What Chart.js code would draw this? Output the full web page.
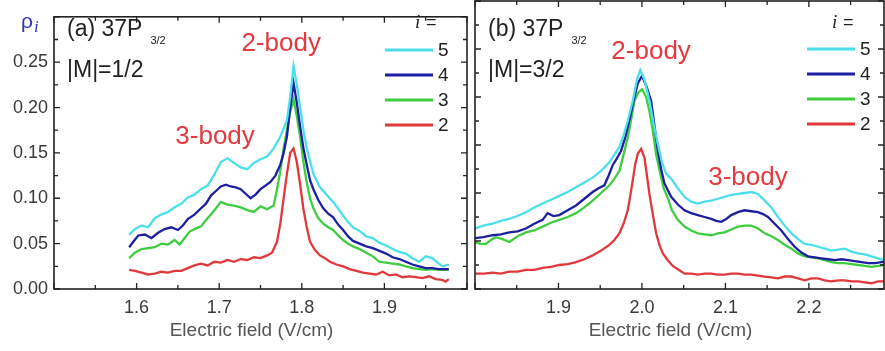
<!DOCTYPE html>
<html>
<head>
<meta charset="utf-8">
<title>rho_i vs electric field, 37P3/2</title>
<script src="https://cdn.jsdelivr.net/npm/chart.js@4.4.1/dist/chart.umd.min.js"></script>
<style>
  html, body { margin: 0; padding: 0; background: #fff; overflow: hidden; }
  #wrap { position: relative; width: 885px; height: 351px; overflow: hidden; }
  #panelA { position: absolute; left: 0; top: 0; }
  #panelB { position: absolute; left: 470px; top: 0; }
</style>
</head>
<body>
<div id="wrap">
  <canvas id="panelA" width="470" height="351"></canvas>
  <canvas id="panelB" width="417" height="351"></canvas>
</div>
<script>
// ---- data: panel (a) |M|=1/2 ----
var fieldA5 = [1.591,1.598,1.606,1.614,1.622,1.630,1.638,1.646,1.654,1.662,1.670,1.678,1.686,1.694,1.702,1.710,1.718,1.726,1.734,1.742,1.750,1.758,1.766,1.774,1.782,1.786,1.790,1.794,1.798,1.802,1.806,1.814,1.822,1.830,1.838,1.846,1.854,1.862,1.870,1.878,1.886,1.894,1.902,1.910,1.918,1.926,1.934,1.942,1.950,1.958,1.966,1.970,1.978];
var rhoA5   = [0.060,0.066,0.070,0.068,0.078,0.082,0.085,0.090,0.094,0.101,0.104,0.110,0.114,0.126,0.140,0.144,0.139,0.134,0.132,0.139,0.143,0.146,0.155,0.168,0.186,0.212,0.246,0.225,0.200,0.175,0.155,0.127,0.112,0.104,0.096,0.086,0.076,0.068,0.064,0.058,0.056,0.051,0.048,0.044,0.041,0.039,0.034,0.030,0.036,0.034,0.028,0.025,0.027];

var fieldA4 = [1.591,1.596,1.602,1.610,1.618,1.626,1.634,1.642,1.650,1.656,1.662,1.670,1.678,1.684,1.690,1.696,1.702,1.708,1.714,1.720,1.726,1.732,1.738,1.744,1.750,1.756,1.762,1.768,1.774,1.778,1.782,1.786,1.790,1.794,1.798,1.802,1.806,1.810,1.814,1.820,1.826,1.832,1.838,1.844,1.850,1.856,1.862,1.870,1.878,1.886,1.894,1.902,1.910,1.918,1.926,1.934,1.942,1.950,1.958,1.966,1.978];
var rhoA4   = [0.046,0.052,0.059,0.060,0.056,0.062,0.066,0.068,0.065,0.070,0.077,0.082,0.089,0.094,0.103,0.108,0.113,0.115,0.113,0.112,0.110,0.105,0.100,0.104,0.110,0.114,0.118,0.125,0.137,0.150,0.168,0.200,0.227,0.205,0.179,0.155,0.137,0.120,0.110,0.098,0.089,0.083,0.079,0.071,0.065,0.058,0.053,0.050,0.047,0.045,0.042,0.039,0.035,0.033,0.030,0.027,0.025,0.023,0.023,0.022,0.022];

var fieldA3 = [1.591,1.598,1.606,1.614,1.622,1.630,1.638,1.646,1.652,1.658,1.664,1.670,1.678,1.684,1.690,1.696,1.702,1.710,1.718,1.726,1.734,1.742,1.750,1.758,1.766,1.770,1.774,1.778,1.782,1.786,1.790,1.794,1.798,1.802,1.806,1.810,1.814,1.820,1.826,1.832,1.838,1.844,1.850,1.856,1.862,1.870,1.878,1.886,1.894,1.902,1.910,1.918,1.926,1.934,1.942,1.950,1.958,1.966,1.978];
var rhoA3   = [0.034,0.040,0.044,0.045,0.046,0.050,0.049,0.054,0.049,0.056,0.063,0.066,0.069,0.076,0.082,0.089,0.096,0.093,0.092,0.090,0.087,0.085,0.091,0.088,0.092,0.110,0.130,0.155,0.175,0.195,0.209,0.190,0.168,0.140,0.117,0.100,0.089,0.078,0.072,0.068,0.065,0.059,0.054,0.050,0.047,0.044,0.040,0.036,0.030,0.029,0.028,0.027,0.025,0.023,0.022,0.021,0.022,0.021,0.021];

var fieldA2 = [1.591,1.598,1.606,1.614,1.622,1.630,1.638,1.646,1.654,1.662,1.670,1.678,1.686,1.694,1.702,1.710,1.718,1.726,1.734,1.742,1.750,1.758,1.764,1.770,1.774,1.778,1.782,1.786,1.790,1.794,1.798,1.802,1.806,1.810,1.816,1.822,1.828,1.834,1.842,1.850,1.858,1.866,1.874,1.882,1.890,1.898,1.906,1.914,1.922,1.930,1.938,1.946,1.954,1.962,1.970,1.974,1.978];
var rhoA2   = [0.021,0.020,0.018,0.016,0.017,0.019,0.018,0.020,0.020,0.023,0.026,0.028,0.026,0.030,0.029,0.032,0.030,0.033,0.032,0.035,0.034,0.037,0.040,0.052,0.072,0.100,0.127,0.150,0.155,0.140,0.115,0.088,0.068,0.052,0.043,0.037,0.034,0.030,0.027,0.025,0.022,0.020,0.018,0.017,0.016,0.019,0.015,0.016,0.013,0.014,0.013,0.012,0.014,0.011,0.010,0.008,0.011];

// ---- data: panel (b) |M|=3/2 ----
var fieldB5 = [1.800,1.810,1.821,1.831,1.841,1.851,1.861,1.871,1.881,1.891,1.901,1.911,1.921,1.931,1.941,1.951,1.961,1.967,1.973,1.978,1.983,1.989,1.994,1.998,2.003,2.009,2.014,2.019,2.024,2.029,2.035,2.043,2.051,2.059,2.067,2.075,2.083,2.091,2.099,2.107,2.115,2.123,2.131,2.139,2.147,2.155,2.163,2.171,2.179,2.187,2.195,2.203,2.211,2.219,2.227,2.235,2.243,2.251,2.259,2.267,2.275,2.283,2.291,2.300];
var rhoB5   = [0.063,0.066,0.068,0.071,0.073,0.076,0.080,0.085,0.089,0.093,0.097,0.101,0.106,0.111,0.116,0.123,0.132,0.140,0.148,0.160,0.175,0.196,0.218,0.228,0.218,0.196,0.172,0.151,0.132,0.120,0.115,0.105,0.096,0.091,0.089,0.091,0.092,0.094,0.096,0.098,0.099,0.100,0.101,0.099,0.092,0.085,0.075,0.066,0.058,0.052,0.047,0.046,0.044,0.042,0.040,0.041,0.042,0.039,0.037,0.036,0.034,0.032,0.030,0.030];

var fieldB4 = [1.800,1.810,1.821,1.831,1.841,1.851,1.861,1.871,1.881,1.887,1.894,1.901,1.911,1.921,1.931,1.941,1.948,1.955,1.960,1.965,1.970,1.975,1.980,1.985,1.990,1.995,2.000,2.005,2.011,2.015,2.019,2.023,2.027,2.035,2.043,2.051,2.059,2.067,2.075,2.083,2.089,2.095,2.101,2.107,2.115,2.123,2.131,2.139,2.145,2.151,2.159,2.167,2.175,2.183,2.191,2.199,2.207,2.215,2.223,2.231,2.239,2.247,2.255,2.263,2.271,2.279,2.287,2.295,2.300];
var rhoB4   = [0.053,0.054,0.056,0.057,0.059,0.060,0.063,0.068,0.072,0.079,0.076,0.077,0.082,0.087,0.094,0.101,0.105,0.108,0.118,0.129,0.136,0.144,0.158,0.176,0.196,0.214,0.222,0.212,0.196,0.170,0.144,0.125,0.110,0.096,0.088,0.082,0.079,0.077,0.075,0.073,0.071,0.070,0.073,0.077,0.080,0.082,0.081,0.080,0.078,0.075,0.068,0.061,0.052,0.044,0.038,0.034,0.033,0.032,0.031,0.030,0.031,0.030,0.029,0.028,0.027,0.027,0.028,0.028,0.028];

var fieldB3 = [1.800,1.806,1.813,1.819,1.825,1.833,1.841,1.851,1.861,1.871,1.881,1.891,1.901,1.911,1.921,1.931,1.941,1.951,1.961,1.967,1.973,1.978,1.983,1.987,1.991,1.996,2.000,2.005,2.009,2.013,2.017,2.021,2.026,2.031,2.036,2.043,2.051,2.059,2.067,2.075,2.083,2.091,2.099,2.107,2.115,2.123,2.131,2.139,2.147,2.155,2.163,2.171,2.179,2.187,2.195,2.203,2.211,2.219,2.227,2.235,2.243,2.251,2.259,2.267,2.275,2.283,2.291,2.300];
var rhoB3   = [0.049,0.047,0.047,0.051,0.054,0.052,0.049,0.055,0.059,0.061,0.065,0.069,0.072,0.075,0.079,0.085,0.092,0.100,0.108,0.115,0.123,0.140,0.158,0.176,0.196,0.205,0.208,0.200,0.185,0.165,0.140,0.124,0.105,0.095,0.082,0.072,0.065,0.061,0.058,0.057,0.056,0.058,0.059,0.062,0.065,0.066,0.066,0.063,0.058,0.055,0.051,0.046,0.042,0.037,0.034,0.033,0.032,0.030,0.028,0.027,0.027,0.026,0.025,0.024,0.023,0.024,0.025,0.025];

var fieldB2 = [1.800,1.811,1.821,1.831,1.841,1.851,1.861,1.871,1.881,1.891,1.901,1.911,1.921,1.931,1.941,1.951,1.961,1.967,1.973,1.978,1.983,1.986,1.989,1.992,1.995,1.999,2.003,2.006,2.009,2.013,2.017,2.021,2.025,2.031,2.037,2.044,2.051,2.059,2.067,2.075,2.083,2.091,2.099,2.107,2.115,2.123,2.131,2.139,2.147,2.155,2.163,2.171,2.179,2.187,2.195,2.203,2.211,2.219,2.227,2.235,2.243,2.251,2.259,2.267,2.275,2.283,2.291,2.300];
var rhoB2   = [0.016,0.016,0.017,0.016,0.018,0.018,0.020,0.020,0.022,0.023,0.025,0.026,0.028,0.031,0.035,0.040,0.046,0.051,0.058,0.068,0.082,0.097,0.113,0.130,0.141,0.146,0.137,0.118,0.099,0.078,0.058,0.046,0.037,0.030,0.024,0.020,0.016,0.016,0.015,0.016,0.016,0.015,0.015,0.016,0.016,0.015,0.015,0.014,0.013,0.012,0.011,0.013,0.013,0.011,0.009,0.011,0.011,0.009,0.008,0.009,0.009,0.008,0.008,0.007,0.006,0.008,0.008,0.008];

// ---- labels / ticks ----
var seriesLabels = ['5', '4', '3', '2'];
var seriesColors = ['#4be0e9', '#1d1fa3', '#3fcd3f', '#e0383b'];
var rhoTicks = [0, 0.05, 0.10, 0.15, 0.20, 0.25];
var fieldTicksA = [1.6, 1.7, 1.8, 1.9];
var fieldTicksB = [1.9, 2.0, 2.1, 2.2];

var FONT = "'Liberation Sans', Arial, sans-serif";
Chart.defaults.font.family = FONT;

function pts(xs, ys) {
    return xs.map(function (x, i) { return { x: x, y: ys[i] }; });
}

function makeDatasets(series) {
    return series.map(function (s, i) {
        return {
            label: seriesLabels[i],
            data: pts(s[0], s[1]),
            borderColor: seriesColors[i],
            borderWidth: 2.3,
            pointRadius: 0,
            tension: 0,
            fill: false
        };
    });
}

// frame, inward ticks, legend and text labels
var panelDecor = {
    id: 'panelDecor',
    afterDatasetsDraw: function (chart, args, opts) {
        var ctx = chart.ctx, a = chart.chartArea;
        var x = chart.scales.x, y = chart.scales.y;
        ctx.save();

        // frame
        ctx.strokeStyle = '#222';
        ctx.lineWidth = 1.6;
        ctx.strokeRect(a.left, a.top, a.right - a.left, a.bottom - a.top);

        // inward ticks, every 0.05 on x and 0.025 on y
        ctx.lineWidth = 1.3;
        ctx.beginPath();
        var nx = Math.floor((x.max - x.min) / 0.05 + 1e-6);
        for (var i = 0; i <= nx; i++) {
            var v = x.min + i * 0.05;
            var px = x.getPixelForValue(v);
            var len = Math.abs(v * 10 - Math.round(v * 10)) < 1e-6 ? 6 : 4;
            ctx.moveTo(px, a.bottom); ctx.lineTo(px, a.bottom - len);
            ctx.moveTo(px, a.top); ctx.lineTo(px, a.top + len);
        }
        var ny = Math.round((y.max - y.min) / 0.025);
        for (var j = 0; j <= ny; j++) {
            var w = y.min + j * 0.025;
            var py = y.getPixelForValue(w);
            var len2 = Math.abs(w * 20 - Math.round(w * 20)) < 1e-6 ? 6 : 4;
            ctx.moveTo(a.left, py); ctx.lineTo(a.left + len2, py);
            ctx.moveTo(a.right, py); ctx.lineTo(a.right - len2, py);
        }
        ctx.stroke();

        // legend, read from the datasets
        var lg = opts.legend;
        ctx.fillStyle = '#222';
        ctx.textBaseline = 'alphabetic';
        ctx.textAlign = 'left';
        ctx.font = 'italic 19px "Liberation Serif", serif';
        ctx.fillText('i', lg.x + lg.ix, 28);
        ctx.font = '18px ' + FONT;
        ctx.fillText('=', lg.x + lg.ix + 11, 28);
        chart.data.datasets.forEach(function (ds, k) {
            var ly = lg.y + k * 25;
            ctx.strokeStyle = ds.borderColor;
            ctx.lineWidth = 3;
            ctx.beginPath();
            ctx.moveTo(lg.x, ly); ctx.lineTo(lg.x + 48, ly);
            ctx.stroke();
            ctx.fillStyle = '#222';
            ctx.font = '19px ' + FONT;
            ctx.textBaseline = 'middle';
            ctx.fillText(ds.label, lg.x + 53, ly + 1);
        });

        // panel header
        var hd = opts.header;
        var hx = a.left + 13;
        ctx.textBaseline = 'alphabetic';
        ctx.fillStyle = '#222';
        ctx.font = '23px ' + FONT;
        ctx.fillText(hd.label, hx, 36);
        var wl = ctx.measureText(hd.label).width;
        ctx.fillText(hd.m, hx, 77);
        ctx.font = '11px ' + FONT;
        ctx.fillText(hd.sub, hx + wl + 8, 44);

        // 2-body / 3-body notes at data positions
        ctx.textAlign = 'center';
        ctx.fillStyle = '#e23a3e';
        ctx.font = '26px ' + FONT;
        opts.notes.forEach(function (n) {
            ctx.fillText(n.text, x.getPixelForValue(n.x), y.getPixelForValue(n.y));
        });

        // x axis title
        ctx.fillStyle = '#555';
        ctx.font = '19px ' + FONT;
        ctx.textBaseline = 'middle';
        ctx.fillText('Electric field (V/cm)', (a.left + a.right) / 2 - 9, 331);

        // y axis title
        if (opts.yTitle) {
            ctx.textAlign = 'left';
            ctx.textBaseline = 'alphabetic';
            ctx.fillStyle = '#3434b8';
            ctx.font = '21px ' + FONT;
            ctx.fillText('\u03C1', 21, 28);
            ctx.font = 'italic 17px "Liberation Serif", serif';
            ctx.fillText('i', 34, 32);
        }
        ctx.restore();
    }
};

function xAxis(min, max, ticks) {
    return {
        type: 'linear',
        min: min,
        max: max,
        afterBuildTicks: function (s) { s.ticks = ticks.map(function (v) { return { value: v }; }); },
        afterFit: function (s) { s.height = 62; },
        grid: { display: false, drawTicks: false },
        border: { display: false },
        ticks: {
            padding: 8,
            color: '#3a3a3a',
            font: { size: 18 },
            maxRotation: 0,
            callback: function (v) { return v.toFixed(1); }
        }
    };
}

function yAxis(show) {
    return {
        type: 'linear',
        min: 0,
        max: 0.30,
        afterBuildTicks: function (s) { s.ticks = rhoTicks.map(function (v) { return { value: v }; }); },
        afterFit: function (s) { s.width = show ? 54 : 0; },
        grid: { display: false, drawTicks: false },
        border: { display: false },
        ticks: {
            display: show,
            padding: 6,
            color: '#3a3a3a',
            font: { size: 18 },
            callback: function (v) { return v.toFixed(2); }
        }
    };
}

var chartA = new Chart(document.getElementById('panelA'), {
    type: 'line',
    data: {
        datasets: makeDatasets([[fieldA5, rhoA5], [fieldA4, rhoA4], [fieldA3, rhoA3], [fieldA2, rhoA2]])
    },
    options: {
        responsive: false,
        animation: false,
        layout: { padding: { left: 0, right: 3, top: 1, bottom: 0 } },
        scales: { x: xAxis(1.5, 2.0, fieldTicksA), y: yAxis(true) },
        plugins: {
            legend: { display: false },
            tooltip: { enabled: false },
            panelDecor: {
                legend: { x: 385, y: 50, ix: 30 },
                header: { label: '(a) 37P', sub: '3/2', m: '|M|=1/2' },
                notes: [
                    { text: '2-body', x: 1.775, y: 0.262 },
                    { text: '3-body', x: 1.695, y: 0.160 }
                ],
                yTitle: true
            }
        }
    },
    plugins: [panelDecor]
});

var chartB = new Chart(document.getElementById('panelB'), {
    type: 'line',
    data: {
        datasets: makeDatasets([[fieldB5, rhoB5], [fieldB4, rhoB4], [fieldB3, rhoB3], [fieldB2, rhoB2]])
    },
    options: {
        responsive: false,
        animation: false,
        layout: { padding: { left: 5, right: 3, top: 1, bottom: 0 } },
        scales: { x: xAxis(1.8, 2.29, fieldTicksB), y: yAxis(false) },
        plugins: {
            legend: { display: false },
            tooltip: { enabled: false },
            panelDecor: {
                legend: { x: 337, y: 49, ix: 25 },
                header: { label: '(b) 37P', sub: '3/2', m: '|M|=3/2' },
                notes: [
                    { text: '2-body', x: 2.011, y: 0.240 },
                    { text: '3-body', x: 2.127, y: 0.108 }
                ],
                yTitle: false
            }
        }
    },
    plugins: [panelDecor]
});
</script>
</body>
</html>
